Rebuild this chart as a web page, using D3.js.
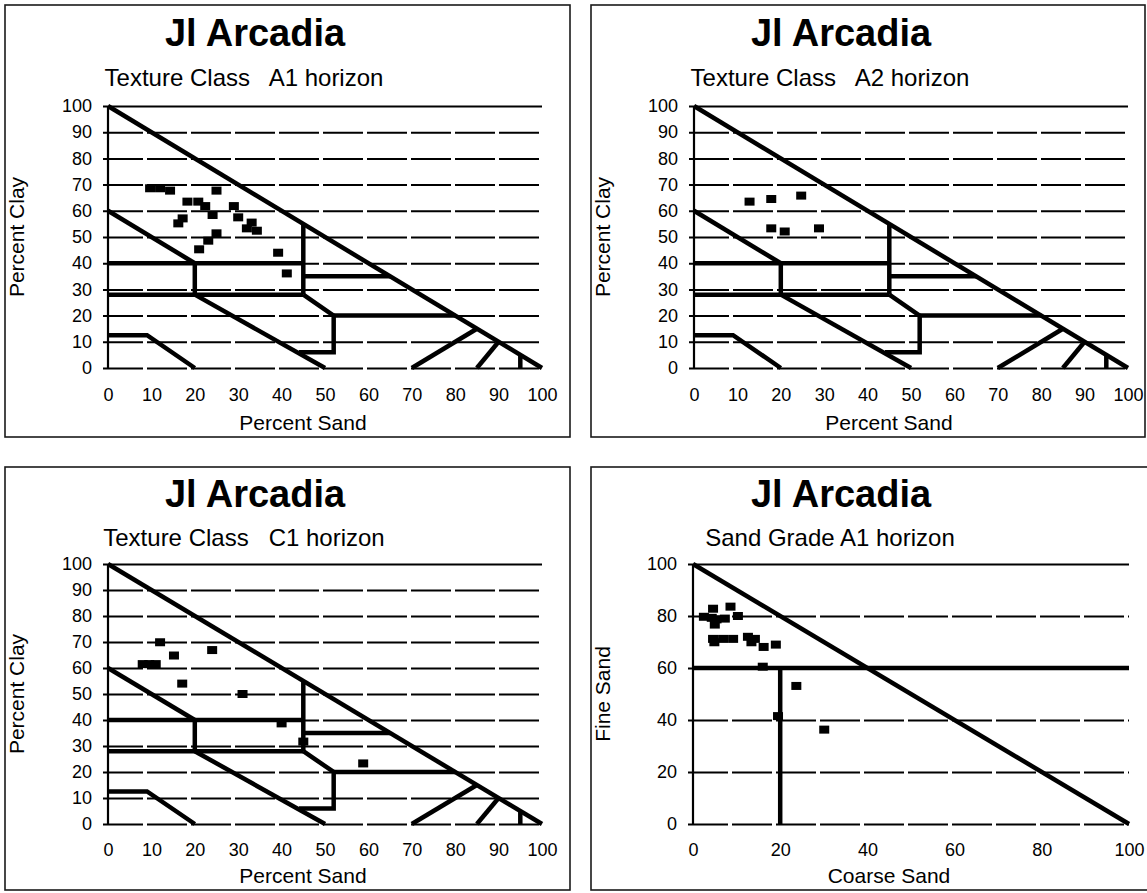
<!DOCTYPE html>
<html>
<head>
<meta charset="utf-8">
<script src="https://cdn.jsdelivr.net/npm/d3@7"></script>
<style>
  body { margin: 0; background: #fff; }
  text { font-family: "Liberation Sans", Arial, sans-serif; fill: #000; }
</style>
</head>
<body>
<svg id="fig" width="1147" height="893"></svg>
<script>
// ---- data ---------------------------------------------------------------
const siteName = "Jl Arcadia";
const textureTicks = [0, 10, 20, 30, 40, 50, 60, 70, 80, 90, 100];
const gradeTicks = [0, 20, 40, 60, 80, 100];

// Texture class, A1 horizon (percent sand, percent clay)
const a1Sand = [9.7, 12.0, 14.3, 25.0, 18.3, 20.8, 22.4, 24.1, 29.0, 30.0, 17.2, 16.2, 33.1, 32.0, 34.3, 25.0, 23.1, 21.0, 39.2, 41.2];
const a1Clay = [68.6, 68.6, 67.7, 67.7, 63.5, 63.5, 61.8, 58.4, 61.8, 57.5, 57.1, 55.2, 55.5, 53.3, 52.4, 51.4, 48.6, 45.3, 44.0, 36.1];

// Texture class, A2 horizon
const a2Sand = [12.8, 17.8, 24.7, 17.8, 20.9, 28.8];
const a2Clay = [63.5, 64.5, 65.8, 53.3, 52.1, 53.3];

// Texture class, C1 horizon
const c1Sand = [12.0, 15.2, 24.0, 8.0, 9.5, 11.0, 17.1, 31.0, 40.0, 45.0, 58.8];
const c1Clay = [69.9, 64.8, 66.9, 61.5, 61.5, 61.5, 54.0, 50.0, 38.7, 31.7, 23.3];

// Sand grade, A1 horizon (coarse sand, fine sand)
const gradeCoarse = [4.6, 8.6, 2.5, 4.3, 5.4, 7.3, 5.0, 10.3, 4.6, 6.9, 9.2, 4.9, 12.6, 14.2, 13.4, 16.2, 19.0, 16.0, 23.7, 19.5, 30.1];
const gradeFine   = [82.8, 83.6, 79.7, 79.3, 78.7, 79.0, 76.7, 80.0, 71.2, 71.2, 71.2, 69.9, 72.0, 71.2, 69.9, 68.1, 69.0, 60.5, 53.1, 41.5, 36.3];

// Texture class boundaries as polylines of (sand, clay)
const textureBoundaries = [
  [[0, 100], [100, 0]],
  [[0, 60], [20, 40]],
  [[0, 40], [45, 40]],
  [[20, 40], [20, 28]],
  [[0, 28], [45, 28]],
  [[45, 55], [45, 28]],
  [[45, 35], [65, 35]],
  [[45, 28], [52, 20], [52, 6], [44, 6]],
  [[52, 20], [80, 20]],
  [[20, 28], [50, 0]],
  [[0, 12.5], [9, 12.5], [20, 0]],
  [[70, 0], [85, 15]],
  [[85, 0], [90, 10]],
  [[95, 0], [95, 5]]
];

// Sand grade boundaries as polylines of (coarse, fine)
const gradeBoundaries = [
  [[0, 100], [100, 0]],
  [[0, 60], [100, 60]],
  [[20, 60], [20, 0]]
];

// ---- panel layout ---------------------------------------------------------
const panels = [
  { subtitle: "Texture Class   A1 horizon", xs: a1Sand, ys: a1Clay, lines: textureBoundaries, ticks: textureTicks,
    xTitle: "Percent Sand", yTitle: "Percent Clay",
    box: [5, 5, 565, 432], px: [108, 542], py: [368, 106],
    titleY: 32, subY: 77, tickY: 395, xTitleY: 422 },
  { subtitle: "Texture Class   A2 horizon", xs: a2Sand, ys: a2Clay, lines: textureBoundaries, ticks: textureTicks,
    xTitle: "Percent Sand", yTitle: "Percent Clay",
    box: [591, 5, 554, 432], px: [694, 1128], py: [368, 106],
    titleY: 32, subY: 77, tickY: 395, xTitleY: 422 },
  { subtitle: "Texture Class   C1 horizon", xs: c1Sand, ys: c1Clay, lines: textureBoundaries, ticks: textureTicks,
    xTitle: "Percent Sand", yTitle: "Percent Clay",
    box: [5, 467, 565, 423], px: [108, 542], py: [824, 564],
    titleY: 493, subY: 537, tickY: 850, xTitleY: 875 },
  { subtitle: "Sand Grade A1 horizon", xs: gradeCoarse, ys: gradeFine, lines: gradeBoundaries, ticks: gradeTicks,
    xTitle: "Coarse Sand", yTitle: "Fine Sand",
    box: [591, 467, 580, 423], px: [693, 1129], py: [824, 564],
    titleY: 493, subY: 537, tickY: 850, xTitleY: 875 }
];

const svg = d3.select("#fig");

panels.forEach(p => {
  const g = svg.append("g");
  const [bx, by, bw, bh] = p.box;

  // frame
  g.append("rect")
    .attr("x", bx).attr("y", by).attr("width", bw).attr("height", bh)
    .attr("fill", "none").attr("stroke", "#1a1a1a").attr("stroke-width", 1.6);

  const x = d3.scaleLinear().domain([0, 100]).range(p.px);
  const y = d3.scaleLinear().domain([0, 100]).range(p.py);

  // titles
  g.append("text")
    .attr("x", bx + 250).attr("y", p.titleY).attr("dy", "0.36em")
    .attr("text-anchor", "middle")
    .style("font-size", "38px").style("font-weight", "bold")
    .text(siteName);

  g.append("text")
    .attr("x", bx + 239).attr("y", p.subY).attr("dy", "0.36em")
    .attr("text-anchor", "middle")
    .style("font-size", "24px").style("white-space", "pre")
    .text(p.subtitle);

  // horizontal gridlines with value labels
  const yAxis = d3.axisLeft(y)
    .tickValues(p.ticks)
    .tickSize(-(p.px[1] - p.px[0] + 5))
    .tickPadding(11)
    .tickFormat(d3.format("d"));
  const ya = g.append("g")
    .attr("transform", `translate(${p.px[0] - 5},0)`)
    .call(yAxis);
  ya.select(".domain").remove();
  ya.selectAll(".tick line")
    .attr("stroke", "#000").attr("stroke-width", 2)
    .attr("stroke-dasharray", d => d === 100 ? null : "40,4");
  ya.selectAll(".tick text")
    .style("font-size", "18px").style("font-family", "'Liberation Sans', Arial, sans-serif")
    .attr("fill", "#000");

  // sand value labels along the bottom
  const xAxis = d3.axisBottom(x)
    .tickValues(p.ticks)
    .tickSize(0)
    .tickPadding(0)
    .tickFormat(d3.format("d"));
  const xa = g.append("g")
    .attr("transform", `translate(0,${p.tickY})`)
    .call(xAxis);
  xa.select(".domain").remove();
  xa.selectAll(".tick text")
    .attr("y", 0).attr("dy", "0.36em")
    .style("font-size", "18px").style("font-family", "'Liberation Sans', Arial, sans-serif")
    .attr("fill", "#000");

  // vertical axis line
  g.append("line")
    .attr("x1", x(0)).attr("x2", x(0))
    .attr("y1", y(0)).attr("y2", y(100))
    .attr("stroke", "#000").attr("stroke-width", 2.2);

  // axis titles
  g.append("text")
    .attr("x", bx + 298).attr("y", p.xTitleY).attr("dy", "0.36em")
    .attr("text-anchor", "middle")
    .style("font-size", "21px")
    .text(p.xTitle);

  const yMid = (p.py[0] + p.py[1]) / 2;
  g.append("text")
    .attr("transform", `translate(${bx + 11},${yMid}) rotate(-90)`)
    .attr("text-anchor", "middle").attr("dy", "0.36em")
    .style("font-size", "21px")
    .text(p.yTitle);

  // class boundaries
  const line = d3.line().x(d => x(d[0])).y(d => y(d[1]));
  g.selectAll("path.boundary")
    .data(p.lines)
    .join("path")
    .attr("class", "boundary")
    .attr("d", line)
    .attr("fill", "none")
    .attr("stroke", "#000")
    .attr("stroke-width", 4.5)
    .attr("stroke-linejoin", "miter")
    .attr("stroke-linecap", "butt");

  // samples
  const pts = p.xs.map((v, i) => [v, p.ys[i]]);
  g.selectAll("rect.pt")
    .data(pts)
    .join("rect")
    .attr("class", "pt")
    .attr("x", d => x(d[0]) - 5)
    .attr("y", d => y(d[1]) - 4)
    .attr("width", 10)
    .attr("height", 8)
    .attr("fill", "#000");
});
</script>
</body>
</html>
